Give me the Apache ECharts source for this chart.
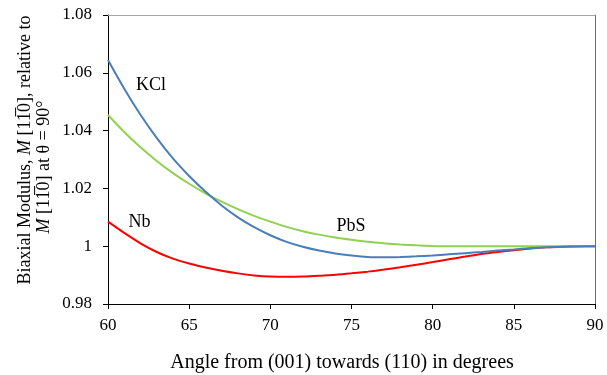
<!DOCTYPE html>
<html>
<head>
<meta charset="utf-8">
<script src="https://cdn.jsdelivr.net/npm/echarts@6/dist/echarts.min.js"></script>
<style>
  html, body { margin: 0; padding: 0; background: #fff; }
  #chart { width: 607px; height: 375px; }
</style>
</head>
<body>
<div id="chart"></div>
<script>
// angle in degrees, one point per degree
const angles = [60, 61, 62, 63, 64, 65, 66, 67, 68, 69, 70, 71, 72, 73, 74, 75,
  76, 77, 78, 79, 80, 81, 82, 83, 84, 85, 86, 87, 88, 89, 90];
const kcl = [1.0644, 1.0545, 1.0455, 1.0375, 1.0304, 1.0243, 1.0189, 1.0141, 1.0100, 1.0066,
  1.0038, 1.0015, 0.9998, 0.9985, 0.9975, 0.9968, 0.9963, 0.9962, 0.9963, 0.9965,
  0.9968, 0.9972, 0.9976, 0.9980, 0.9985, 0.9989, 0.9993, 0.9996, 0.9998, 0.9999, 1.0];
const pbs = [1.0454, 1.0395, 1.0342, 1.0295, 1.0253, 1.0216, 1.0183, 1.0154, 1.0128, 1.0105,
  1.0085, 1.0067, 1.0052, 1.0040, 1.0030, 1.0022, 1.0015, 1.0010, 1.0006, 1.0003,
  1.0001, 1.0000, 1.0, 1.0, 1.0, 1.0, 1.0, 1.0, 1.0, 1.0, 1.0];
const nb = [1.0085, 1.0046, 1.0010, 0.9980, 0.9957, 0.9940, 0.9926, 0.9915, 0.9906, 0.9899,
  0.9895, 0.9894, 0.9895, 0.9898, 0.9901, 0.9906, 0.9912, 0.9919, 0.9927, 0.9936,
  0.9945, 0.9955, 0.9964, 0.9973, 0.9980, 0.9986, 0.9992, 0.9996, 0.9998, 1.0, 1.0];
const seriesNames = ["KCl", "PbS", "Nb"];
// where each curve's name sits, in data units [angle, value]
const labelAt = [[62.65, 1.0558], [74.97, 1.0068], [61.94, 1.0082]];

const FONT = "Liberation Serif";
const colors = ["#4a7ebb", "#92d050", "#ff0000"];
const values = [kcl, pbs, nb];

const series = seriesNames.map((name, i) => ({
  name: name,
  type: "line",
  smooth: 0.3,
  showSymbol: false,
  lineStyle: { color: colors[i], width: 2 },
  data: angles.map((a, k) => [a, values[i][k]]),
  markPoint: {
    symbol: "circle",
    symbolSize: 0,
    label: {
      show: true,
      position: "inside",
      formatter: name,
      fontFamily: FONT,
      fontSize: 18,
      color: "#000",
    },
    data: [{ coord: labelAt[i] }],
  },
  z: 3 - i,
}));

const rich = { i: { fontFamily: FONT, fontSize: 18, fontStyle: "italic", fill: "#000" } };

const option = {
  animation: false,
  grid: { left: 108, right: 12, top: 15, bottom: 71 },
  xAxis: [
    {
      type: "value",
      min: 60,
      max: 90,
      interval: 5,
      axisLine: { lineStyle: { color: "#000", width: 1 } },
      axisTick: { show: true, length: 5, lineStyle: { color: "#000" } },
      axisLabel: { fontFamily: FONT, fontSize: 17, color: "#000", margin: 13 },
      splitLine: { show: false },
    },
    {
      type: "value",
      position: "top",
      min: 60,
      max: 90,
      axisLine: { show: true, lineStyle: { color: "#a6a6a6", width: 1 } },
      axisTick: { show: false },
      axisLabel: { show: false },
      splitLine: { show: false },
    },
  ],
  yAxis: [
    {
      type: "value",
      min: 0.98,
      max: 1.08,
      interval: 0.02,
      axisLine: { show: true, lineStyle: { color: "#000", width: 1 } },
      axisTick: { show: true, length: 5, lineStyle: { color: "#000" } },
      axisLabel: {
        fontFamily: FONT,
        fontSize: 17,
        color: "#000",
        margin: 16,
        formatter: (v) => String(+v.toFixed(2)),
      },
      splitLine: { show: false },
    },
    {
      type: "value",
      position: "right",
      min: 0.98,
      max: 1.08,
      axisLine: { show: true, lineStyle: { color: "#6e6e6e", width: 1 } },
      axisTick: { show: false },
      axisLabel: { show: false },
      splitLine: { show: false },
    },
  ],
  graphic: [
    {
      type: "text",
      x: 342,
      y: 363,
      style: {
        text: "Angle from (001) towards (110) in degrees",
        fontFamily: FONT,
        fontSize: 20,
        fill: "#000",
        align: "center",
        verticalAlign: "middle",
      },
    },
    {
      type: "text",
      x: 25,
      y: 150,
      rotation: Math.PI / 2,
      style: {
        text: "Biaxial Modulus, {i|M} [11\u03050], relative to",
        fontFamily: FONT,
        fontSize: 18,
        fill: "#000",
        align: "center",
        verticalAlign: "middle",
        rich: rich,
      },
    },
    {
      type: "text",
      x: 44,
      y: 167,
      rotation: Math.PI / 2,
      style: {
        text: "{i|M} [11\u03050] at \u03b8 = 90\u00b0",
        fontFamily: FONT,
        fontSize: 18,
        fill: "#000",
        align: "center",
        verticalAlign: "middle",
        rich: rich,
      },
    },
  ],
  series: series,
};

const dom = document.getElementById("chart");
echarts.init(dom, null, { renderer: "canvas" }).setOption(option);
</script>
</body>
</html>
